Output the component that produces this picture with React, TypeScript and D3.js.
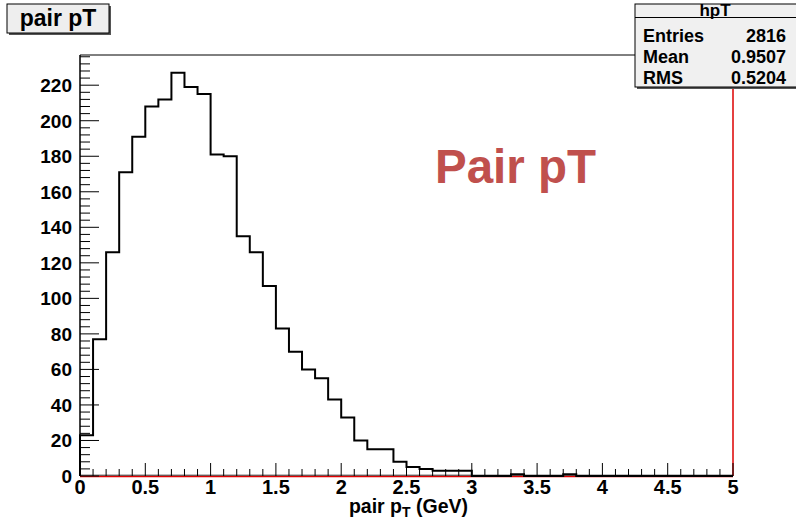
import React from "react";
import * as d3 from "d3";

const binEdgesStart = 0;
const binWidth = 0.1;
const counts = [
  23, 77, 126, 171, 191, 208, 212, 227, 219, 215,
  181, 180, 135, 126, 107, 83, 70, 60, 55, 43,
  33, 20, 15, 15, 8, 5, 4, 3, 3, 3,
  0, 0, 0, 1, 0, 0, 0, 1, 0, 0,
  0, 0, 0, 0, 0, 0, 0, 0, 0, 0,
];
const yTicks = [0, 20, 40, 60, 80, 100, 120, 140, 160, 180, 200, 220];
const xTicks = [0, 0.5, 1, 1.5, 2, 2.5, 3, 3.5, 4, 4.5, 5];
const statLabels = ["Entries", "Mean", "RMS"];
const statValues = ["2816", "0.9507", "0.5204"];

const W = 796;
const H = 524;
const L = 80, R = 733, T = 55, B = 476;
const FONT = "'Liberation Sans', Arial, Helvetica, sans-serif";

export default function App() {
  const x = d3.scaleLinear().domain([0, 5]).range([L, R]);
  const y = d3.scaleLinear().domain([0, 237]).range([B, T]);

  const pts: [number, number][] = [[binEdgesStart, 0]];
  counts.forEach((c, i) => pts.push([binEdgesStart + i * binWidth, c]));
  pts.push([5, counts[counts.length - 1]]);
  pts.push([5, 0]);
  const line = d3
    .line<[number, number]>()
    .x((d) => x(d[0]))
    .y((d) => y(d[1]))
    .curve(d3.curveStepAfter);

  const yMinor = d3.range(0, 237, 4);
  const xMinor = d3.range(0, 50.01, 1).map((v) => v / 10);

  return (
    <svg
      width={W}
      height={H}
      style={{ position: "absolute", left: 0, top: 0, background: "#fff" }}
      fontFamily={FONT}
    >
      <rect x={0} y={0} width={W} height={H} fill="#fff" />
      {/* frame */}
      <line x1={L} x2={R} y1={T} y2={T} stroke="#000" strokeWidth={1} />
      <line x1={L} x2={L} y1={T} y2={B} stroke="#000" strokeWidth={1.5} />
      <line x1={R} x2={R} y1={T} y2={B} stroke="#d00" strokeWidth={1.5} />
      <line x1={L} x2={R} y1={B + 0.5} y2={B + 0.5} stroke="#e00000" strokeWidth={1.5} />
      <line x1={L} x2={R} y1={B - 0.8} y2={B - 0.8} stroke="#000" strokeWidth={0.8} />

      {/* y ticks */}
      {yMinor.map((v) => {
        const major = v % 20 === 0;
        return (
          <line
            key={"ym" + v}
            x1={L}
            x2={L + (major ? 19 : 10)}
            y1={y(v)}
            y2={y(v)}
            stroke="#000"
            strokeWidth={1}
          />
        );
      })}
      {yTicks.map((v) => (
        <text
          key={"yt" + v}
          x={72}
          y={y(v) + 7}
          textAnchor="end"
          fontSize={19}
          fontWeight="bold"
        >
          {v}
        </text>
      ))}

      {/* x ticks */}
      {xMinor.map((v) => {
        const major = Math.abs(v * 2 - Math.round(v * 2)) < 1e-6;
        return (
          <line
            key={"xm" + v}
            x1={x(v)}
            x2={x(v)}
            y1={B}
            y2={B - (major ? 13 : 7)}
            stroke="#000"
            strokeWidth={1}
          />
        );
      })}
      {xTicks.map((v) => (
        <text
          key={"xt" + v}
          x={x(v)}
          y={494}
          textAnchor="middle"
          fontSize={20}
          fontWeight="bold"
        >
          {String(v)}
        </text>
      ))}

      {/* histogram */}
      <path d={line(pts) || ""} fill="none" stroke="#000" strokeWidth={2} />

      {/* axis title */}
      <text x={468} y={513} textAnchor="end" fontSize={19.5} fontWeight="bold">
        pair p
        <tspan fontSize={14} dy={4}>T</tspan>
        <tspan dy={-4}> (GeV)</tspan>
      </text>

      {/* big label */}
      <text x={435} y={183} fontSize={47.5} fontWeight="bold" fill="#c0504d">
        Pair pT
      </text>

      {/* title box */}
      <rect x={9} y={6} width={102} height={29} fill="#555" />
      <rect x={7} y={4} width={102} height={29} fill="#eeeeee" stroke="#000" strokeWidth={1} />
      <text x={58} y={26} textAnchor="middle" fontSize={23} fontWeight="bold">
        pair pT
      </text>

      {/* stats box */}
      <rect x={637} y={6} width={162} height={83} fill="#555" />
      <rect x={635} y={4} width={162} height={83} fill="#f0f0f0" stroke="#000" strokeWidth={1} />
      <line x1={635} x2={797} y1={17.5} y2={17.5} stroke="#000" strokeWidth={1} />
      <text x={715} y={15.5} textAnchor="middle" fontSize={17} fontWeight="bold">
        hpT
      </text>
      {statLabels.map((s, i) => (
        <g key={s}>
          <text x={643} y={42 + i * 21} fontSize={18} fontWeight="bold">
            {s}
          </text>
          <text x={786} y={42 + i * 21} textAnchor="end" fontSize={18} fontWeight="bold">
            {statValues[i]}
          </text>
        </g>
      ))}
    </svg>
  );
}
